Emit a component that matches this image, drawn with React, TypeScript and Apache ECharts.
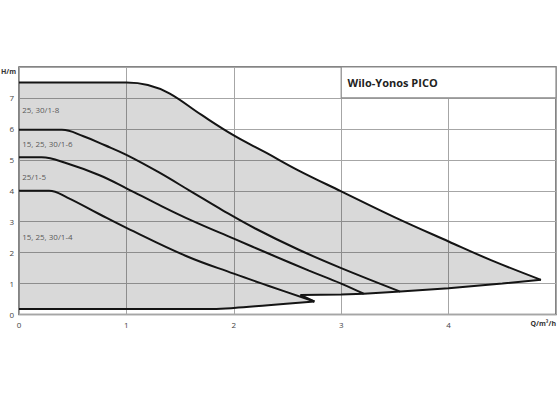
import React, { useEffect, useRef } from "react";
import * as echarts from "echarts";

// Pump curves (Q in m³/h, H in m)
const curve18: number[][] = [[0, 7.5], [1.0, 7.5], [1.2, 7.42], [1.4, 7.15], [1.7, 6.45], [2.0, 5.79], [2.3, 5.23], [2.6, 4.66], [3.0, 3.98], [3.5, 3.14], [4.0, 2.36], [4.4, 1.75], [4.86, 1.12]];
const curve16: number[][] = [[0, 5.97], [0.4, 5.97], [0.6, 5.76], [0.8, 5.47], [1.0, 5.16], [1.3, 4.6], [1.6, 3.98], [1.9, 3.36], [2.2, 2.78], [2.6, 2.1], [3.0, 1.5], [3.55, 0.74]];
const curve15: number[][] = [[0, 5.08], [0.21, 5.08], [0.45, 4.88], [0.75, 4.5], [1.0, 4.08], [1.3, 3.55], [1.6, 3.05], [2.0, 2.45], [2.35, 1.93], [2.7, 1.42], [3.0, 1.0], [3.21, 0.67]];
const curve14: number[][] = [[0, 4.0], [0.28, 4.0], [0.45, 3.78], [0.75, 3.24], [1.0, 2.8], [1.55, 1.9], [2.0, 1.32], [2.32, 0.93], [2.75, 0.42]];
const minCurve: number[][] = [[0, 0.18], [1.8, 0.18], [2.0, 0.21], [2.32, 0.3], [2.75, 0.42]];
const endCurve: number[][] = [[2.75, 0.42], [2.62, 0.63], [3.0, 0.65], [3.21, 0.67], [3.55, 0.74], [4.0, 0.85], [4.5, 1.0], [4.86, 1.12]];

const curveLabels: (number | string)[][] = [
  [0.02, 6.64, "25, 30/1-8"],
  [0.02, 5.52, "15, 25, 30/1-6"],
  [0.02, 4.47, "25/1-5"],
  [0.02, 2.53, "15, 25, 30/1-4"],
];

const xTicks = [0, 1, 2, 3, 4];
const yTicks = [0, 1, 2, 3, 4, 5, 6, 7];
const titleText = "Wilo-Yonos PICO";
const FONT = "'Open Sans', 'Noto Sans', sans-serif";

export default function App() {
  const ref = useRef<HTMLDivElement>(null);
  useEffect(() => {
    document.body.style.margin = "0";
    const chart = echarts.init(ref.current!, null, { renderer: "svg" });
    const lineColor = "#141414";
    const mkLine = (name: string, data: number[][], smooth: number | boolean) => ({
      name,
      type: "line",
      data,
      showSymbol: false,
      smooth,
      lineStyle: { color: lineColor, width: 2 },
      z: 5,
    });
    const fillPoly = [
      ...curve18,
      ...endCurve.slice().reverse(),
      ...minCurve.slice().reverse(),
    ];
    chart.setOption({
      animation: false,
      textStyle: { fontFamily: FONT },
      grid: {
        left: 19,
        right: 4,
        top: 67,
        bottom: 81.5,
        show: true,
        borderColor: "#5c5c5c",
        borderWidth: 1.5,
        backgroundColor: "transparent",
      },
      xAxis: {
        type: "value",
        min: 0,
        max: 5,
        interval: 1,
        axisLine: { show: false },
        axisTick: { show: false },
        splitLine: { show: true, lineStyle: { color: "#a6a6a6", width: 1 } },
        axisLabel: {
          fontSize: 8,
          color: "#444",
          margin: 6,
          fontFamily: FONT,
          formatter: (v: number) => (xTicks.includes(v) ? String(v) : ""),
        },
      },
      yAxis: {
        type: "value",
        min: 0,
        max: 8,
        interval: 1,
        axisLine: { show: false },
        axisTick: { show: false },
        splitLine: { show: true, lineStyle: { color: "#a6a6a6", width: 1 } },
        axisLabel: {
          fontSize: 8,
          color: "#444",
          margin: 5,
          fontFamily: FONT,
          formatter: (v: number) => (yTicks.includes(v) ? String(v) : ""),
        },
      },
      graphic: [
        { type: "text", left: 1, top: 68, style: { text: "H/m", fontSize: 7, fill: "#333", fontFamily: FONT, fontWeight: "bold" } },
        { type: "text", right: 4, top: 320, style: { text: "Q/m³/h", fontSize: 7, fill: "#333", fontFamily: FONT, fontWeight: "bold" } },
      ],
      series: [
        {
          type: "custom",
          data: [[0, 0]],
          z: 1,
          silent: true,
          renderItem: (_params: any, api: any) => {
            const pts = fillPoly.map((p) => api.coord(p));
            return {
              type: "polygon",
              shape: { points: pts },
              style: { fill: "rgba(0,0,0,0.15)", stroke: "none" },
            };
          },
        },
        {
          ...mkLine("1-8", curve18, 0.4),
          markArea: {
            silent: true,
            itemStyle: { color: "#ffffff", borderColor: "#8a8a8a", borderWidth: 1.2 },
            label: {
              show: true,
              position: "insideLeft",
              distance: 7,
              formatter: titleText,
              fontSize: 11,
              fontWeight: "bold",
              color: "#222",
              fontFamily: FONT,
            },
            data: [[{ coord: [3, 8] }, { coord: [5, 7] }]],
          },
        },
        mkLine("1-6", curve16, 0.4),
        mkLine("1-5", curve15, 0.4),
        mkLine("1-4", curve14, 0.4),
        mkLine("min", minCurve, 0.4),
        mkLine("end", endCurve, false),
        {
          type: "scatter",
          data: curveLabels,
          symbolSize: 0,
          silent: true,
          z: 6,
          label: {
            show: true,
            position: "right",
            distance: 1,
            fontSize: 8,
            color: "#333",
            fontFamily: FONT,
            formatter: (p: any) => p.data[2],
          },
        },
      ],
    });
    return () => chart.dispose();
  }, []);
  return <div ref={ref} style={{ width: 560, height: 396 }} />;
}
